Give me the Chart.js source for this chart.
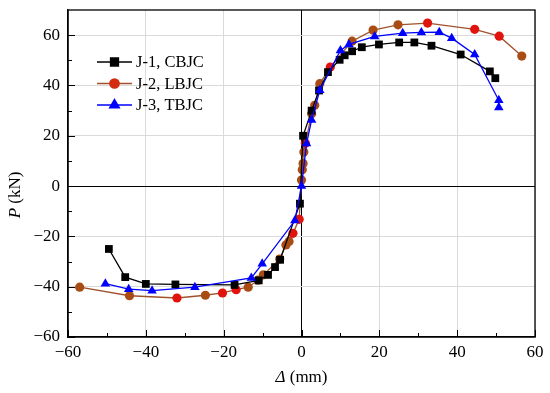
<!DOCTYPE html>
<html>
<head>
<meta charset="utf-8">
<script src="https://cdn.jsdelivr.net/npm/chart.js@4.4.1/dist/chart.umd.min.js"></script>
<style>
  html, body { margin: 0; padding: 0; background: #fff; }
  #wrap { width: 550px; height: 393px; }
</style>
</head>
<body>
<div id="wrap"><canvas id="c"></canvas></div>
<script>
// --- data ---
const seriesLabels = ['J-1, CBJC', 'J-2, LBJC', 'J-3, TBJC'];

const j1Disp = [-49.5, -45.3, -40, -32.4, -17.2, -11, -8.6, -6.8, -5.5, -0.4, 0.4, 2.6, 4.5, 6.8, 9.8, 11.1, 13, 15.5, 19.9, 25.1, 29, 33.4, 40.9, 48.4, 49.8];
const j1Load = [-25, -36.2, -38.9, -39.1, -39.3, -37.5, -35.3, -32.2, -29.3, -7, 20, 30, 38, 45.3, 50.2, 52, 53.6, 55.2, 56.3, 57.1, 57.1, 55.8, 52.3, 45.6, 42.9];

const j2Disp = [-57, -44.2, -32, -24.7, -20.3, -16.8, -13.7, -11.2, -9.8, -5.6, -4, -3.2, -2.2, -0.6, 0, 0.2, 0.4, 0.6, 1, 2.6, 3.4, 4.7, 7.4, 13, 18.4, 24.8, 32.4, 44.5, 50.8, 56.6];
const j2Load = [-40.2, -43.6, -44.5, -43.4, -42.5, -41.2, -40.2, -37.4, -35.3, -29, -23.4, -22, -18.8, -13.2, 2.4, 6.5, 9, 13.5, 17, 28.8, 32.1, 40.7, 47.3, 57.6, 62, 64.1, 64.8, 62.3, 59.6, 51.7];

const j3Disp = [-50.4, -44.4, -38.4, -27.4, -12.9, -10.1, -1.7, 0, 1.3, 2.6, 4.7, 10, 12.2, 18.8, 26, 30.8, 35.4, 38.6, 44.5, 50.7, 50.7];
const j3Load = [-38.8, -41, -41.6, -40.2, -36.5, -30.9, -13.7, 0, 16.9, 26.3, 38.1, 53.9, 56.3, 59.5, 60.8, 61.1, 61.2, 58.8, 52.3, 34.1, 31.2];

const xTickLabels = [-60, -40, -20, 0, 20, 40, 60];
const yTickLabels = [-60, -40, -20, 0, 20, 40, 60];

const SERIF = '"Liberation Serif", "Times New Roman", serif';
const fmt = v => (v < 0 ? '\u2212' + Math.abs(v) : String(v));
const pts = (xs, ys) => xs.map((x, i) => ({ x, y: ys[i] }));

// some J-2 markers look pure red, the rest brown
const j2Red = new Set([2, 4, 5, 12, 13, 18, 22, 26, 27, 28]);

// --- inward ticks, frame, axis titles and legend ---
const decor = {
  id: 'decor',
  afterDraw(chart) {
    const { ctx, chartArea: a, scales } = chart;
    const xs = scales.x, ys = scales.y;
    ctx.save();
    ctx.strokeStyle = '#000';
    ctx.lineWidth = 1;
    ctx.beginPath();
    for (let v = -60; v <= 60; v += 10) {
      const px = Math.round(xs.getPixelForValue(v)) + 0.5;
      const len = v % 20 === 0 ? 7 : 4;
      ctx.moveTo(px, a.bottom);
      ctx.lineTo(px, a.bottom - len);
    }
    for (let v = -60; v <= 60; v += 10) {
      const py = Math.round(ys.getPixelForValue(v)) + 0.5;
      const len = v % 20 === 0 ? 7 : 4;
      ctx.moveTo(a.left, py);
      ctx.lineTo(a.left + len, py);
    }
    ctx.stroke();

    ctx.lineWidth = 1.3;
    ctx.strokeRect(a.left, a.top, a.right - a.left, a.bottom - a.top);

    // axis titles
    ctx.fillStyle = '#000';
    ctx.textBaseline = 'middle';
    const italic = 'italic 17px ' + SERIF, plain = '17px ' + SERIF;
    // x title
    ctx.font = italic;
    const wD = ctx.measureText('\u0394').width;
    ctx.font = plain;
    const wMm = ctx.measureText(' (mm)').width;
    let sx = (a.left + a.right) / 2 - (wD + wMm) / 2;
    ctx.font = italic;
    ctx.textAlign = 'left';
    ctx.fillText('\u0394', sx, 378);
    ctx.font = plain;
    ctx.fillText(' (mm)', sx + wD, 378);
    // y title
    ctx.save();
    ctx.translate(16, 195);
    ctx.rotate(-Math.PI / 2);
    ctx.font = italic;
    const wP = ctx.measureText('P').width;
    ctx.font = plain;
    const wKn = ctx.measureText(' (kN)').width;
    sx = -(wP + wKn) / 2;
    ctx.font = italic;
    ctx.fillText('P', sx, 0);
    ctx.font = plain;
    ctx.fillText(' (kN)', sx + wP, 0);
    ctx.restore();

    // legend
    chart.data.datasets.forEach((ds, i) => {
      const y = 62 + i * 21.5;
      ctx.strokeStyle = ds.borderColor;
      ctx.lineWidth = 1.5;
      ctx.beginPath();
      ctx.moveTo(97, y);
      ctx.lineTo(132, y);
      ctx.stroke();
      ctx.fillStyle = ds.legendMarker;
      ctx.strokeStyle = ds.legendMarker;
      Chart.helpers.drawPoint(ctx, { pointStyle: ds.pointStyle, radius: ds.pointRadius, rotation: 0, borderWidth: 1 }, 114.5, y);
      ctx.fillStyle = '#000';
      ctx.font = '16.5px ' + SERIF;
      ctx.textAlign = 'left';
      ctx.fillText(seriesLabels[i], 136, y + 1);
    });
    ctx.restore();
  }
};

new Chart(document.getElementById('c'), {
  type: 'scatter',
  data: {
    datasets: [
      {
        label: seriesLabels[0],
        data: pts(j1Disp, j1Load),
        showLine: true,
        borderColor: '#000000',
        backgroundColor: '#000000',
        legendMarker: '#000000',
        borderWidth: 1.3,
        pointStyle: 'rect',
        pointRadius: 5.5,
        pointBorderWidth: 0,
        order: 1
      },
      {
        label: seriesLabels[1],
        data: pts(j2Disp, j2Load),
        showLine: true,
        borderColor: '#a0522d',
        backgroundColor: ctx => (j2Red.has(ctx.dataIndex) ? '#e0140c' : '#a84c14'),
        legendMarker: '#d42a10',
        borderWidth: 1.3,
        pointStyle: 'circle',
        pointRadius: 4.6,
        pointBorderWidth: 0,
        order: 2
      },
      {
        label: seriesLabels[2],
        data: pts(j3Disp, j3Load),
        showLine: true,
        borderColor: '#0000ff',
        backgroundColor: '#0000ff',
        legendMarker: '#0000ff',
        borderWidth: 1.3,
        pointStyle: 'triangle',
        pointRadius: 5.5,
        pointBorderWidth: 0,
        order: 0
      }
    ]
  },
  options: {
    responsive: true,
    maintainAspectRatio: false,
    animation: false,
    layout: { padding: { top: 10, right: 15, left: 0, bottom: 0 } },
    plugins: {
      legend: { display: false },
      tooltip: { enabled: false }
    },
    scales: {
      x: {
        type: 'linear',
        min: -60,
        max: 60,
        afterFit: s => { s.height = 56; s.paddingLeft = 0; s.paddingRight = 0; },
        afterBuildTicks: s => { s.ticks = [-60, -50, -40, -30, -20, -10, 0, 10, 20, 30, 40, 50, 60].map(v => ({ value: v })); },
        ticks: {
          autoSkip: false,
          maxRotation: 0,
          padding: 5,
          color: '#000',
          font: { family: SERIF, size: 17 },
          callback: v => (xTickLabels.includes(v) ? fmt(v) : '')
        },
        grid: {
          drawTicks: false,
          lineWidth: 1,
          color: c => (c.tick.value === 0 ? '#000' : (c.tick.value % 20 === 0 ? '#dadada' : 'rgba(0,0,0,0)'))
        },
        border: { display: true, color: '#000', width: 1.3 }
      },
      y: {
        type: 'linear',
        min: -60,
        max: 70,
        afterFit: s => { s.width = 68; s.paddingTop = 0; s.paddingBottom = 0; },
        afterBuildTicks: s => { s.ticks = [-60, -50, -40, -30, -20, -10, 0, 10, 20, 30, 40, 50, 60, 70].map(v => ({ value: v })); },
        ticks: {
          autoSkip: false,
          padding: 8,
          color: '#000',
          font: { family: SERIF, size: 17 },
          callback: v => (yTickLabels.includes(v) ? fmt(v) : '')
        },
        grid: {
          drawTicks: false,
          lineWidth: 1,
          color: c => (c.tick.value === 0 ? '#000' : (c.tick.value % 20 === 0 && c.tick.value < 70 ? '#dadada' : 'rgba(0,0,0,0)'))
        },
        border: { display: true, color: '#000', width: 1.3 }
      }
    }
  },
  plugins: [decor]
});
</script>
</body>
</html>
